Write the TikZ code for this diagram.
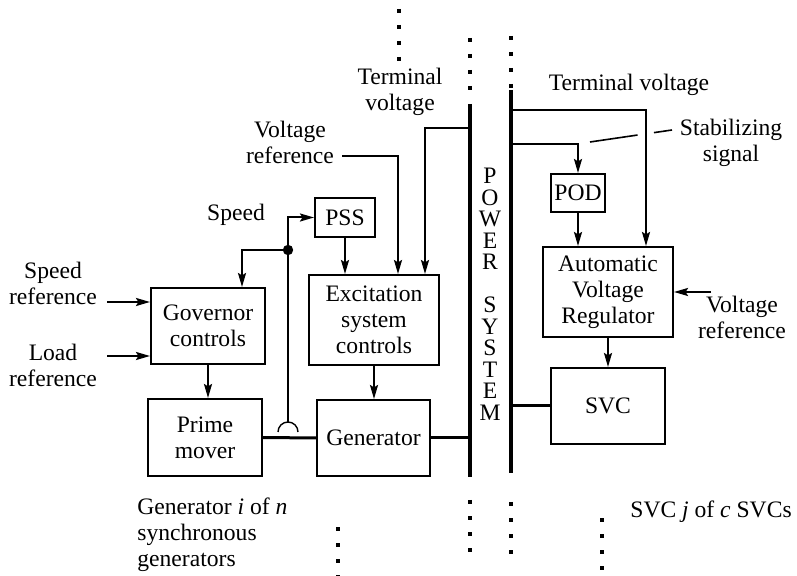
\documentclass[tikz,border=0pt]{standalone}
\usepackage{fontspec}
\setmainfont{Liberation Serif}
\usetikzlibrary{arrows.meta,calc}

\begin{document}
\begin{tikzpicture}[x=0.5pt,y=-0.5pt,
 font=\fontsize{11.8}{13}\selectfont,
 blk/.style={draw,line width=1pt,align=center,inner sep=0pt},
 lbl/.style={align=center,inner sep=0pt},
 arrow/.style={-{Stealth[length=7pt,width=4pt,inset=1.2pt]},line width=1pt},
 bus/.style={line width=2pt},
 shaft/.style={line width=1.5pt},
 dots/.style={line width=1.6pt,dash pattern=on 2pt off 6pt}]
\useasboundingbox (0,0) rectangle (797,576);
% generator side
\node[blk,minimum width=57pt,minimum height=38pt] (gov) at (208,326) {Governor\\controls};
\node[blk,minimum width=57pt,minimum height=38.5pt] (prime) at (205,437.5) {Prime\\mover};
\node[blk,minimum width=30pt,minimum height=19.5pt] (pss) at (345,217.5) {PSS};
\node[blk,minimum width=65pt,minimum height=45pt] (exc) at (374,320) {Excitation\\system\\controls};
\node[blk,minimum width=56.5pt,minimum height=38pt] (gen) at (373.5,438) {Generator};
% svc side
\node[blk,minimum width=27pt,minimum height=19pt] (pod) at (578,193) {POD};
\node[blk,minimum width=65pt,minimum height=45pt] (avr) at (608,292) {Automatic\\Voltage\\Regulator};
\node[blk,minimum width=57pt,minimum height=38pt] (svc) at (608,406) {SVC};
% labels
\node[lbl] (spdref) at (53,283) {Speed\\reference};
\node[lbl] (loadref) at (53,365) {Load\\reference};
\node[lbl] (speed) at (236,215) {Speed};
\node[lbl] (vrefL) at (290,142) {Voltage\\reference};
\node[lbl] (tvoltL) at (400,92) {Terminal\\voltage};
\node[lbl] (tvoltR) at (629,85) {Terminal voltage};
\node[lbl] (stab) at (731,143) {Stabilizing\\signal};
\node[lbl] (vrefR) at (742,317) {Voltage\\reference};
\node[lbl,font=\fontsize{11.8}{10.75}\selectfont] (ps) at (490,294.5)
  {P\\O\\W\\E\\R\\[10.75pt]S\\Y\\S\\T\\E\\M};
\node[lbl,align=left,anchor=west] (geni) at (137,535)
  {Generator \textit{i} of \textit{n}\\synchronous\\generators};
\node[lbl,anchor=west] (svcj) at (630,512) {SVC \textit{j} of \textit{c} SVCs};
% buses
\coordinate (busLt) at (470,104);
\coordinate (busLb) at (470,477);
\coordinate (busRt) at (511,90);
\coordinate (busRb) at (511,473);
\draw[bus] (busLt) -- (busLb);
\draw[bus] (busRt) -- (busRb);
\foreach \x/\y in {399/9,470/38,511/36,470/500,511/502,338/527,602/518}
  \draw[dots] (\x,\y) -- ++(0,52);
% shaft and machine connections
\coordinate (hoptop) at (288,422);
\draw[shaft] (prime.east) -- (gen.west);
\draw[line width=0.7pt] (278,432) arc[start angle=180,end angle=0,radius=5pt];
\draw[shaft] (gen.east) -- (gen.east -| busLt);
\draw[shaft] (svc.west) -- (svc.west -| busRt);
% control signals
\draw[arrow] ([xshift=-21.5pt,yshift=12pt]gov.west) -- ([yshift=12pt]gov.west);
\draw[arrow] ([xshift=-21.5pt,yshift=-15pt]gov.west) -- ([yshift=-15pt]gov.west);
\draw[arrow] (gov.south) -- (gov.south |- prime.north);
\draw[arrow] (hoptop) |- (pss.west);
\coordinate (sdot) at (288,250);
\fill (sdot) circle (2.6pt);
\draw[arrow] (sdot) -| ([xshift=17pt]gov.north);
\draw[arrow] (pss.south) -- (pss.south |- exc.north);
\draw[arrow] ([xshift=4pt,yshift=-7pt]vrefL.east) -| ([xshift=12pt]exc.north);
\coordinate (tvL) at (470,128);
\draw[arrow] (tvL) -| ([xshift=25.5pt]exc.north);
\draw[arrow] (exc.south) -- (exc.south |- gen.north);
\coordinate (tvR1) at (511,110);
\coordinate (tvR2) at (511,144);
\draw[arrow] (tvR1) -| ([xshift=19pt]avr.north);
\draw[arrow] (tvR2) -| (pod.north);
\draw[arrow] (pod.south) -- (pod.south |- avr.north);
\draw[arrow] ([xshift=18.5pt]avr.east) -- (avr.east);
\draw[arrow] (avr.south) -- (svc.north);
% leader to stabilizing signal
\coordinate (ldA) at (590,142);
\coordinate (ldB) at (672,130);
\draw[line width=0.8pt] (ldA) -- ($(ldA)!0.58!(ldB)$);
\draw[line width=0.8pt] ($(ldA)!0.78!(ldB)$) -- (ldB);
\end{tikzpicture}
\end{document}
